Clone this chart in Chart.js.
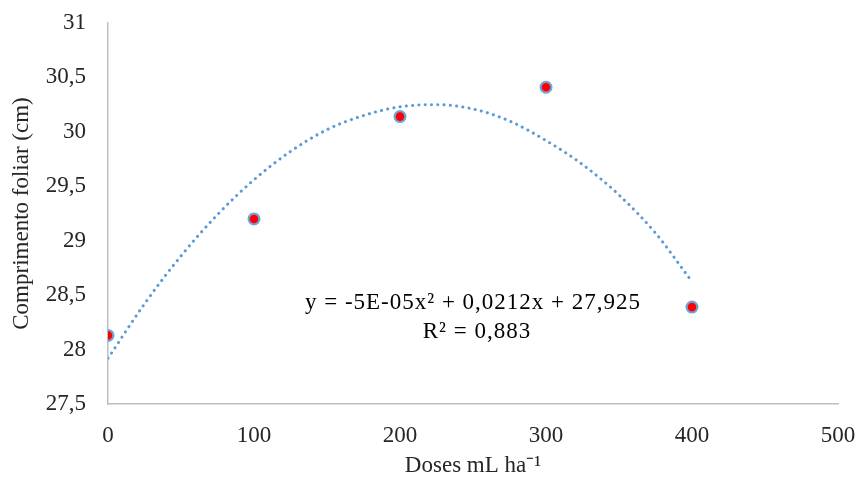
<!DOCTYPE html>
<html lang="pt">
<head>
  <meta charset="UTF-8">
  <title>Comprimento foliar</title>
  <script src="https://cdn.jsdelivr.net/npm/chart.js"></script>
  <style>
    html, body { margin: 0; padding: 0; background: #fff; }
    #wrap { width: 859px; height: 477px; }
  </style>
</head>
<body>
  <div id="wrap"><canvas id="grafico" width="859" height="477"></canvas></div>

  <script>
    // doses (mL ha-1) e comprimento foliar medido
    const doses = [0, 100, 200, 300, 400];
    const comprimento = [28.13, 29.2, 30.14, 30.41, 28.39];

    // linha de tendência
    const tendX = [0, 25, 50, 75, 100, 125, 150, 175, 200, 225, 250, 275, 300, 325, 350, 375, 398];
    const tendY = [27.92, 28.42, 28.86, 29.24, 29.56, 29.82, 30.02, 30.15, 30.23, 30.25, 30.21, 30.1, 29.92, 29.7, 29.42, 29.07, 28.66];

    const equacao = 'y = -5E-05x² + 0,0212x + 27,925';
    const r2 = 'R² = 0,883';

    const fonte = "'Liberation Serif', 'Times New Roman', serif";
    const corEixo = '#BFBFBF';
    const corTexto = '#262626';

    const pontos = doses.map((d, i) => ({ x: d, y: comprimento[i] }));
    const tendencia = tendX.map((d, i) => ({ x: d, y: tendY[i] }));

    // escreve a equação dentro da área do gráfico
    const textoEquacao = {
      id: 'textoEquacao',
      afterDraw(chart) {
        const ctx = chart.ctx;
        ctx.save();
        ctx.fillStyle = '#000';
        ctx.font = '23px ' + fonte;
        ctx.letterSpacing = '1px';
        ctx.textAlign = 'center';
        ctx.textBaseline = 'alphabetic';
        ctx.fillText(equacao, 473, 309);
        ctx.fillText(r2, 477, 338);
        ctx.restore();
      }
    };

    new Chart(document.getElementById('grafico'), {
      type: 'scatter',
      data: {
        datasets: [{
          label: 'Comprimento',
          data: pontos,
          backgroundColor: '#FF0000',
          borderColor: '#6FA3DA',
          borderWidth: 2.2,
          pointRadius: 5.4,
          order: 0
        }, {
          label: 'Tendência',
          data: tendencia,
          showLine: true,
          borderColor: '#5B9BD5',
          borderWidth: 3,
          borderDash: [0.1, 6.2],
          borderCapStyle: 'round',
          cubicInterpolationMode: 'monotone',
          pointRadius: 0,
          fill: false,
          order: 1
        }]
      },
      options: {
        responsive: false,
        animation: false,
        layout: { padding: { top: 23, right: 21, left: 0, bottom: 0 } },
        plugins: {
          legend: { display: false },
          tooltip: { enabled: false }
        },
        scales: {
          x: {
            type: 'linear',
            min: 0,
            max: 500,
            ticks: { stepSize: 100, padding: 18, color: corTexto, font: { family: fonte, size: 23 } },
            grid: { display: false, drawTicks: false },
            border: { display: true, color: corEixo, width: 1.5 },
            title: {
              display: true,
              text: 'Doses mL ha⁻¹',
              color: corTexto,
              font: { family: fonte, size: 23, lineHeight: 1 },
              padding: { top: 0, bottom: 0 }
            },
            afterFit(scale) {
              scale.height = 73;
              scale.paddingLeft = 0;
              scale.paddingRight = 0;
            }
          },
          y: {
            min: 27.5,
            max: 31,
            ticks: {
              stepSize: 0.5,
              padding: 22,
              color: corTexto,
              font: { family: fonte, size: 23 },
              callback: (v) => String(v).replace('.', ',')
            },
            grid: { display: false, drawTicks: false },
            border: { display: true, color: corEixo, width: 1.5 },
            title: {
              display: true,
              text: 'Comprimento foliar (cm)',
              color: corTexto,
              font: { family: fonte, size: 23 },
              padding: { top: 8, bottom: 0 }
            },
            afterFit(scale) {
              scale.width = 108;
              scale.paddingTop = 0;
              scale.paddingBottom = 0;
            }
          }
        }
      },
      plugins: [textoEquacao]
    });
  </script>
</body>
</html>
